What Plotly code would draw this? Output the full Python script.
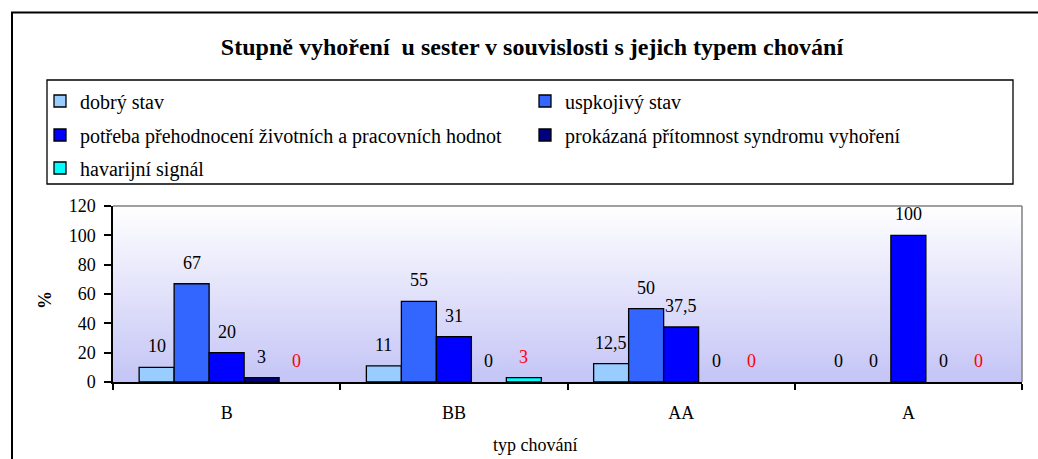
import plotly.graph_objects as go

# data
categories = ["B", "BB", "AA", "A"]
series_names = [
    "dobrý stav",
    "uspkojivý stav",
    "potřeba přehodnocení životních a pracovních hodnot",
    "prokázaná přítomnost syndromu vyhoření",
    "havarijní signál",
]
dobry = [10, 11, 12.5, 0]
uspkojivy = [67, 55, 50, 0]
potreba = [20, 31, 37.5, 100]
prokazana = [3, 0, 0, 0]
havarijni = [0, 3, 0, 0]
y_ticks = [0, 20, 40, 60, 80, 100, 120]

series = [dobry, uspkojivy, potreba, prokazana, havarijni]
colors = ["#99CCFF", "#3366FF", "#0000FF", "#000080", "#00FFFF"]
label_colors = ["black", "black", "black", "black", "#FF0000"]
legends = ["legend", "legend", "legend2", "legend2", "legend3"]

FONT = "Times New Roman"
W, H = 1038, 459
L, R, T, B = 113, 16, 206, 77
PW, PH = W - L - R, H - T - B


def px_x(x):  # pixel -> paper
    return (x - L) / PW


def px_y(y):
    return (H - B - y) / PH


def fmt(v):
    s = ("%g" % v)
    return s.replace(".", ",")


fig = go.Figure()

# background gradient of the plot area (drawn on the base axes, below the bars)
fig.add_trace(go.Scatter(
    x=[0, 1, 1, 0, 0], y=[0, 0, 1, 1, 0], mode="lines", line_width=0,
    fill="toself", fillgradient=dict(type="vertical", colorscale=[[0, "#C4C4F6"], [1, "#FFFFFF"]]),
    hoverinfo="skip", showlegend=False, xaxis="x", yaxis="y"))

bargap = 0.23
bw = (1 - bargap) / len(series)
annotations = []
for j, (name, vals) in enumerate(zip(series_names, series)):
    fig.add_trace(go.Bar(
        x=categories, y=[v if v else None for v in vals], name=name, marker_color=colors[j],
        marker_line=dict(color="black", width=1.3),
        xaxis="x2", yaxis="y2", legend=legends[j]))
    for i, v in enumerate(vals):
        annotations.append(dict(
            x=i + (j - 2) * bw, y=v, xref="x2", yref="y2", text=fmt(v),
            showarrow=False, yshift=21, xanchor="center",
            font=dict(family=FONT, size=18, color=label_colors[j])))

# axis titles
annotations.append(dict(
    x=px_x(45), y=px_y(300), xref="paper", yref="paper", text="<b>%</b>",
    xanchor="center", yanchor="middle",
    showarrow=False, textangle=-90, font=dict(family=FONT, size=18, color="black")))
annotations.append(dict(
    x=px_x(535), y=px_y(445), xref="paper", yref="paper", text="typ chování",
    xanchor="center", yanchor="middle",
    showarrow=False, font=dict(family=FONT, size=18, color="black")))

shapes = [
    # outer frame
    dict(type="rect", xref="paper", yref="paper", x0=px_x(12), x1=px_x(1050),
         y0=px_y(480), y1=px_y(12.5), line=dict(color="black", width=2)),
    # legend frame
    dict(type="rect", xref="paper", yref="paper", x0=px_x(47), x1=px_x(1013),
         y0=px_y(184), y1=px_y(80), line=dict(color="black", width=1.3)),
    # grey top / right border of plot area
    dict(type="line", xref="paper", yref="paper", x0=0, x1=1, y0=1, y1=1,
         line=dict(color="#808080", width=1.5)),
    dict(type="line", xref="paper", yref="paper", x0=1, x1=1, y0=0, y1=1,
         line=dict(color="#808080", width=1.5)),
]

leg_common = dict(orientation="h", xanchor="left", yanchor="middle", bgcolor="rgba(0,0,0,0)",
                  font=dict(family=FONT, size=20, color="black"), entrywidth=440,
                  borderwidth=0, traceorder="normal")

fig.update_layout(
    width=W, height=H, margin=dict(l=L, r=R, t=T, b=B, autoexpand=False),
    font=dict(family=FONT, size=18, color="black"),
    paper_bgcolor="white", plot_bgcolor="white",
    barmode="group", bargap=bargap, bargroupgap=0,
    title=dict(text="<b>Stupně vyhoření&nbsp; u sester v souvislosti s jejich typem chování</b>",
               x=532 / W, xref="container", xanchor="center", y=1 - 47 / H, yanchor="middle",
               font=dict(family=FONT, size=24, color="black")),
    xaxis=dict(range=[0, 1], visible=False, fixedrange=True),
    yaxis=dict(range=[0, 1], visible=False, fixedrange=True),
    xaxis2=dict(overlaying="x", anchor="y2", type="category", range=[-0.5, 3.5],
                showline=True, linecolor="black", linewidth=1.5, automargin=False,
                ticks="outside", tickson="boundaries", ticklen=6, tickcolor="black", tickwidth=1.5,
                ticklabelstandoff=14, showgrid=False,
                tickfont=dict(family=FONT, size=18, color="black")),
    yaxis2=dict(overlaying="y", anchor="x2", range=[0, 120], tickvals=y_ticks,
                showline=True, linecolor="black", linewidth=1.5, automargin=False,
                ticks="outside", ticklen=7, tickcolor="black", tickwidth=1.5,
                ticklabelstandoff=5, showgrid=False, zeroline=False,
                tickfont=dict(family=FONT, size=18, color="black")),
    legend=dict(x=px_x(40), y=px_y(101), **leg_common),
    legend2=dict(x=px_x(40), y=px_y(135), **leg_common),
    legend3=dict(x=px_x(40), y=px_y(168), **leg_common),
    annotations=annotations, shapes=shapes, showlegend=True,
)

fig.write_html("out.html", config={"displayModeBar": False},
               post_script="document.body.style.margin='0px';")
